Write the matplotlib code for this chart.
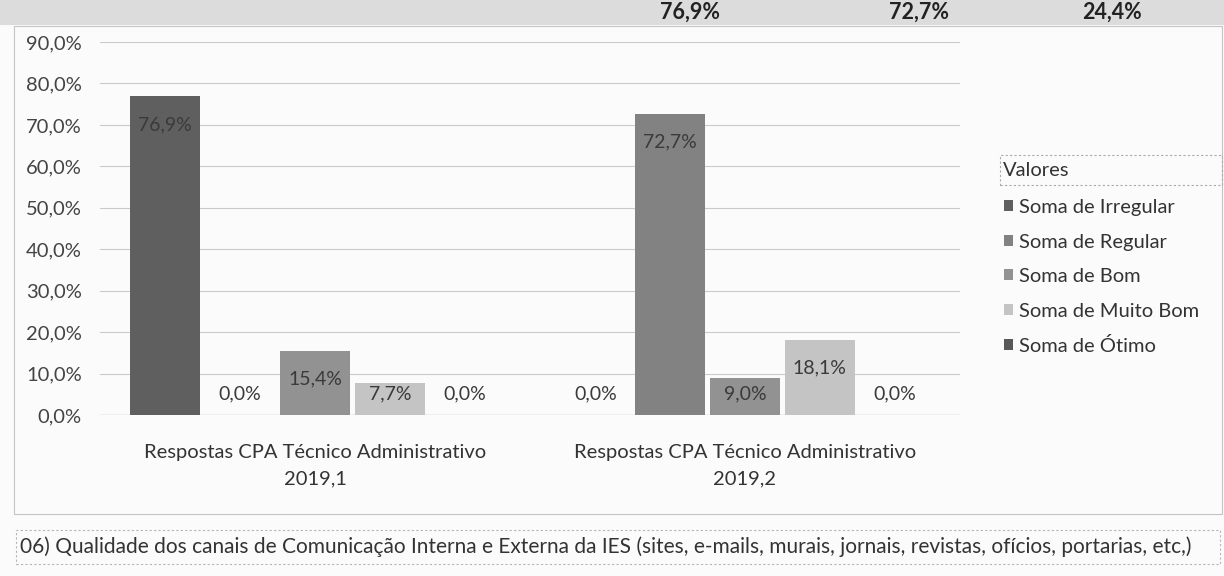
import numpy as np
import matplotlib
matplotlib.use("Agg")
import matplotlib.pyplot as plt
from matplotlib.patches import Rectangle

plt.rcParams['font.family'] = ['Lato', 'DejaVu Sans']

# data
categories = ["Respostas CPA Técnico Administrativo\n2019,1",
              "Respostas CPA Técnico Administrativo\n2019,2"]
series = ["Soma de Irregular", "Soma de Regular", "Soma de Bom",
          "Soma de Muito Bom", "Soma de Ótimo"]
irregular = [76.9, 0.0]
regular = [0.0, 72.7]
bom = [15.4, 9.0]
muito_bom = [7.7, 18.1]
otimo = [0.0, 0.0]
yticks = [0, 10, 20, 30, 40, 50, 60, 70, 80, 90]
top_values = ["76,9%", "72,7%", "24,4%"]
caption = ("06) Qualidade dos canais de Comunicação Interna e Externa da IES "
           "(sites, e-mails, murais, jornais, revistas, ofícios, portarias, etc,)")

colors = ['#5f5f5f', '#828282', '#929292', '#c4c4c4', '#585858']
W, H = 1224, 576


def fx(px):
    return px / W


def fy(py):
    return 1 - py / H


fig = plt.figure(figsize=(12.24, 5.76), dpi=100)
fig.patch.set_facecolor('#fbfbfb')

# grey table row at the top of the scan
fig.patches.append(Rectangle((0, fy(25)), 1, 25 / H, transform=fig.transFigure,
                             facecolor='#dcdcdc', edgecolor='none', zorder=0))
for txt, px in zip(top_values, [690, 919, 1112]):
    fig.text(fx(px), fy(19), txt, ha='center', va='baseline', fontsize=15.5,
             fontweight='bold', color='#222222')

# chart frame
fig.patches.append(Rectangle((fx(14), fy(514)), fx(1208), 488 / H, transform=fig.transFigure,
                             facecolor='none', edgecolor='#c4c4c4', lw=0.8, zorder=1))

ax = fig.add_axes([fx(100), fy(415), fx(860), 373 / H])
ax.set_facecolor('none')

data = [irregular, regular, bom, muito_bom, otimo]
x = np.arange(len(categories))
step = 0.174
width = 0.163
for i, (name, vals) in enumerate(zip(series, data)):
    pos = x + (i - 2) * step
    ax.bar(pos, vals, width, color=colors[i], label=name, zorder=2)
    for p, v in zip(pos, vals):
        ly = max(v - 6.8, 5.0)
        ax.text(p, ly, f"{v:.1f}%".replace('.', ','), ha='center', va='center',
                fontsize=14, color='#3a3a3a', zorder=3)

ax.set_xlim(-0.5, 1.5)
ax.set_ylim(0, 90)
ax.set_yticks(yticks)
ax.set_yticklabels([f"{t:.1f}%".replace('.', ',') for t in yticks], fontsize=14.5, color='#444444')
ax.set_xticks(x)
ax.set_xticklabels(categories, fontsize=14.5, color='#333333', linespacing=1.65)
ax.tick_params(axis='both', length=0)
ax.tick_params(axis='y', pad=13)
ax.tick_params(axis='x', pad=21)
ax.grid(axis='y', color='#cacaca', lw=0.8, zorder=0)
for s in ax.spines.values():
    s.set_visible(False)
ax.axhline(0, color='#b0b0b0', lw=0.9, zorder=1)

# legend
fig.text(fx(1003), fy(171), "Valores", fontsize=14.5, color='#333333', va='center', ha='left')
fig.patches.append(Rectangle((fx(1000), fy(185)), fx(222), 30 / H, transform=fig.transFigure,
                             facecolor='none', edgecolor='#aaaaaa', lw=0.8, ls=(0, (2, 2))))
leg = fig.legend(loc='upper left', bbox_to_anchor=(fx(1004), fy(199)), frameon=False,
                 fontsize=14.5, handlelength=0.45, handleheight=0.45, handletextpad=0.3,
                 labelspacing=0.87, borderpad=0, borderaxespad=0, labelcolor='#333333')

# caption
fig.text(fx(20), fy(547), caption, fontsize=15, color='#333333', va='center', ha='left')
fig.patches.append(Rectangle((fx(16), fy(564)), fx(1204), 34 / H, transform=fig.transFigure,
                             facecolor='none', edgecolor='#b5b5b5', lw=0.8, ls=(0, (2, 2))))

fig.savefig("out.png", dpi=100, facecolor=fig.get_facecolor())
